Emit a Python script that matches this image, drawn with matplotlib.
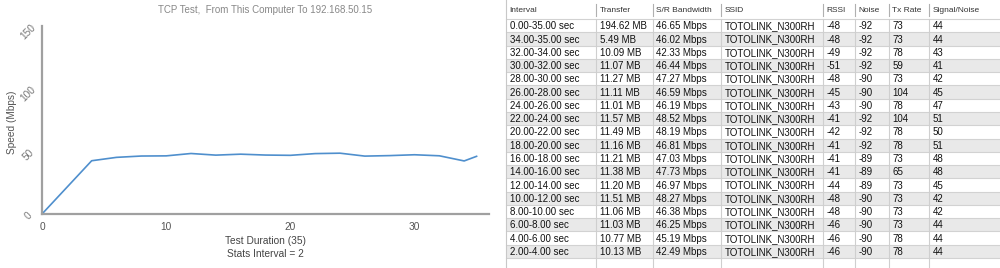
import matplotlib
matplotlib.use('agg')
import matplotlib.pyplot as plt
from matplotlib.patches import Rectangle

plt.rcParams['font.family'] = ['Liberation Sans', 'DejaVu Sans']

# chart data (seconds, Mbps)
time_s = [0, 4, 6, 8, 10, 12, 14, 16, 18, 20, 22, 24, 26, 28, 30, 32, 34, 35]
speed = [0, 42.49, 45.19, 46.25, 46.38, 48.27, 46.97, 47.73, 47.03, 46.81,
         48.19, 48.52, 46.19, 46.59, 47.27, 46.44, 42.33, 46.02]

# table data
headers = ['Interval', 'Transfer', 'S/R Bandwidth', 'SSID', 'RSSI', 'Noise', 'Tx Rate', 'Signal/Noise']
intervals = ['0.00-35.00 sec', '34.00-35.00 sec', '32.00-34.00 sec', '30.00-32.00 sec',
             '28.00-30.00 sec', '26.00-28.00 sec', '24.00-26.00 sec', '22.00-24.00 sec',
             '20.00-22.00 sec', '18.00-20.00 sec', '16.00-18.00 sec', '14.00-16.00 sec',
             '12.00-14.00 sec', '10.00-12.00 sec', '8.00-10.00 sec', '6.00-8.00 sec',
             '4.00-6.00 sec', '2.00-4.00 sec']
transfer = ['194.62 MB', '5.49 MB', '10.09 MB', '11.07 MB', '11.27 MB', '11.11 MB', '11.01 MB',
            '11.57 MB', '11.49 MB', '11.16 MB', '11.21 MB', '11.38 MB', '11.20 MB', '11.51 MB',
            '11.06 MB', '11.03 MB', '10.77 MB', '10.13 MB']
bandwidth = ['46.65 Mbps', '46.02 Mbps', '42.33 Mbps', '46.44 Mbps', '47.27 Mbps', '46.59 Mbps',
             '46.19 Mbps', '48.52 Mbps', '48.19 Mbps', '46.81 Mbps', '47.03 Mbps', '47.73 Mbps',
             '46.97 Mbps', '48.27 Mbps', '46.38 Mbps', '46.25 Mbps', '45.19 Mbps', '42.49 Mbps']
ssid = ['TOTOLINK_N300RH'] * 18
rssi = [-48, -48, -49, -51, -48, -45, -43, -41, -42, -41, -41, -41, -44, -48, -48, -46, -46, -46]
noise = [-92, -92, -92, -92, -90, -90, -90, -92, -92, -92, -89, -89, -89, -90, -90, -90, -90, -90]
tx_rate = [73, 73, 78, 59, 73, 104, 78, 104, 78, 78, 73, 65, 73, 73, 73, 73, 78, 78]
snr = [44, 44, 43, 41, 42, 45, 47, 51, 50, 51, 48, 48, 45, 42, 42, 44, 44, 44]

fig = plt.figure(figsize=(10, 2.68), dpi=100)

# ---- line chart ----
ax = fig.add_axes([0.042, 0.2015, 0.447, 0.7015])
ax.plot(time_s, speed, color='#4f8fcd', lw=1.2)
ax.set_xlim(0, 36)
ax.set_ylim(0, 150)
ax.set_xticks([0, 10, 20, 30])
ax.set_yticks([0, 50, 100, 150])
for s in ['top', 'right']:
    ax.spines[s].set_visible(False)
for s in ['left', 'bottom']:
    ax.spines[s].set_color('#a0a0a0')
    ax.spines[s].set_linewidth(1.6)
ax.tick_params(axis='x', length=0, labelsize=7.3, labelcolor='#555555', pad=6)
ax.tick_params(axis='y', length=0, labelsize=7.3, labelcolor='#777777', pad=10)
for lab in ax.get_yticklabels():
    lab.set_rotation(45)
    lab.set_ha('center')
ax.set_title('TCP Test,  From This Computer To 192.168.50.15', fontsize=7.0, color='#888888', pad=9)
fig.text(0.012, 1 - 122 / 268, 'Speed (Mbps)', rotation=90, fontsize=7.3, color='#555555',
         ha='center', va='center')
ax.set_xlabel('Test Duration (35)\nStats Interval = 2', fontsize=7.3, color='#444444',
              labelpad=3, linespacing=1.3)

# ---- table ----
tb = fig.add_axes([0.5, 0, 0.5, 1])
tb.set_xlim(500, 1000)
tb.set_ylim(268, 0)
tb.axis('off')

col_x = [506, 596, 653, 721, 823, 855, 889, 929, 1000]
row_h = 13.27
top = 19.1
columns = [intervals, transfer, bandwidth, ssid, rssi, noise, tx_rate, snr]

for i in range(len(intervals)):
    y0 = top + i * row_h
    if i % 2 == 1:
        tb.add_patch(Rectangle((col_x[0], y0), col_x[-1] - col_x[0], row_h,
                               facecolor='#e9e9e9', edgecolor='none'))
    tb.plot([col_x[0], col_x[-1]], [y0, y0], color='#d2d2d2', lw=0.8)
    for c, col in enumerate(columns):
        tb.text(col_x[c] + 3.5, y0 + row_h / 2 + 3.6, str(col[i]), fontsize=7.0,
                color='#111111', va='baseline', ha='left')
end = top + len(intervals) * row_h
tb.plot([col_x[0], col_x[-1]], [end, end], color='#d2d2d2', lw=0.8)

# column separators
for x in col_x[1:-1]:
    tb.plot([x, x], [top, 268], color='#cfcfcf', lw=0.8)
tb.plot([col_x[0], col_x[0]], [0, 268], color='#c8c8c8', lw=0.8)

# header
for c, h in enumerate(headers):
    tb.text(col_x[c] + 3.5, 12.3, h, fontsize=6.0, color='#333333', va='baseline', ha='left')
    if c > 0:
        tb.plot([col_x[c], col_x[c]], [3.5, 15.5], color='#b0b0b0', lw=0.8)

fig.savefig('out.png', dpi=100)
